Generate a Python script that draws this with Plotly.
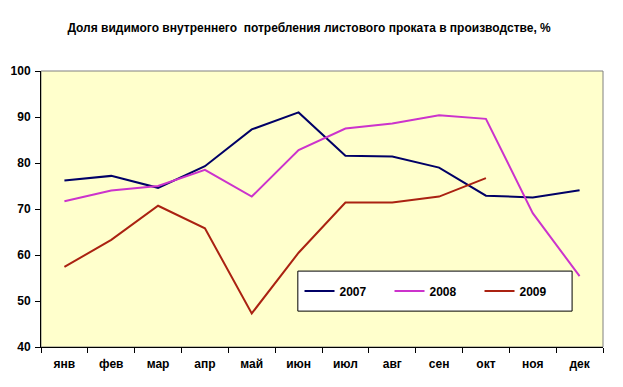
import plotly.graph_objects as go

months = ["янв", "фев", "мар", "апр", "май", "июн", "июл", "авг", "сен", "окт", "ноя", "дек"]
v2007 = [76.2, 77.2, 74.6, 79.3, 87.3, 91.0, 81.6, 81.4, 79.0, 72.9, 72.5, 74.1]
v2008 = [71.7, 74.0, 75.0, 78.5, 72.7, 82.8, 87.5, 88.6, 90.4, 89.6, 69.1, 55.4]
v2009 = [57.4, 63.3, 70.7, 65.8, 47.3, 60.5, 71.4, 71.4, 72.7, 76.7]
y_ticks = [40, 50, 60, 70, 80, 90, 100]
series_names = ["2007", "2008", "2009"]

title = "Доля видимого внутреннего  потребления листового проката в производстве, %"

FONT = "Liberation Sans, Arial, sans-serif"

fig = go.Figure()
fig.add_trace(go.Scatter(x=months, y=v2007, mode="lines", name="<b>%s</b>" % series_names[0],
                         line=dict(color="#000066", width=2)))
fig.add_trace(go.Scatter(x=months, y=v2008, mode="lines", name="<b>%s</b>" % series_names[1],
                         line=dict(color="#CC33CC", width=2)))
fig.add_trace(go.Scatter(x=months[:len(v2009)], y=v2009, mode="lines",
                         name="<b>%s</b>" % series_names[2],
                         line=dict(color="#AA2211", width=2)))

# page has an 8px body margin; compensate so plot area lands at x 41-603, y 71-347
fig.update_layout(
    width=623, height=387,
    margin=dict(l=33, r=28, t=63, b=48),
    paper_bgcolor="#FFFFFF",
    plot_bgcolor="#FFFFCC",
    font=dict(family=FONT, size=11, color="#000000"),
    title=dict(text="<b>" + title + "</b>", x=0.477, xref="paper", xanchor="center",
               y=1 - 20 / 387, yanchor="middle",
               font=dict(family=FONT, size=12, color="#000")),
    showlegend=True,
    legend=dict(orientation="h", x=0.46, y=0.203, xanchor="left", yanchor="middle",
                bgcolor="rgba(0,0,0,0)", borderwidth=0, entrywidth=45,
                font=dict(family=FONT, size=12, color="#000"),
                itemclick=False),
    shapes=[
        dict(type="rect", xref="paper", yref="paper", x0=0, x1=1, y0=0, y1=1,
             line=dict(color="#808080", width=1), fillcolor="rgba(0,0,0,0)", layer="below"),
        dict(type="rect", xref="paper", yref="paper", x0=0.457, x1=0.945, y0=0.130, y1=0.275,
             line=dict(color="#000000", width=1), fillcolor="#FFFFFF", layer="below"),
    ],
)

fig.update_xaxes(
    type="category", categoryorder="array", categoryarray=months,
    range=[-0.5, 11.5], showgrid=False, zeroline=False,
    showline=True, linecolor="#000000", linewidth=1,
    ticks="outside", tickson="boundaries", ticklen=5, tickcolor="#000000",
    tickvals=months, ticktext=["<b>%s</b>" % m for m in months],
    tickfont=dict(family=FONT, size=12, color="#000"),
    ticklabelstandoff=6, automargin=False,
    fixedrange=True,
)
fig.update_yaxes(
    range=[40, 100], tickvals=y_ticks, ticktext=["<b>%d</b>" % v for v in y_ticks],
    showgrid=False, zeroline=False,
    showline=True, linecolor="#000000", linewidth=1,
    ticks="outside", ticklen=5, tickcolor="#000000",
    tickfont=dict(family=FONT, size=12, color="#000"),
    ticklabelstandoff=2, automargin=False,
    fixedrange=True,
)

fig.write_html("out.html")
